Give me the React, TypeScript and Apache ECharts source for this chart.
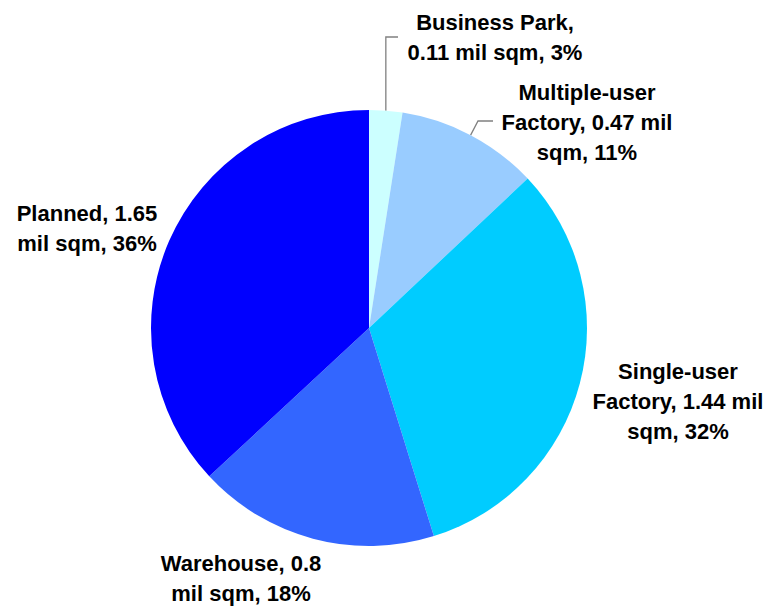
import React, { useEffect, useRef } from "react";
import * as echarts from "echarts";

const categories = ["Business Park", "Multiple-user Factory", "Single-user Factory", "Warehouse", "Planned"];
const values = [0.11, 0.47, 1.44, 0.8, 1.65];
const percents = [3, 11, 32, 18, 36];
const labelTexts = [
  "Business Park,\n0.11 mil sqm, 3%",
  "Multiple-user\nFactory, 0.47 mil\nsqm, 11%",
  "Single-user\nFactory, 1.44 mil\nsqm, 32%",
  "Warehouse, 0.8\nmil sqm, 18%",
  "Planned, 1.65\nmil sqm, 36%",
];
const colors = ["#ccffff", "#99ccff", "#00ccff", "#3366ff", "#0000ff"];
const showLeader = [true, true, false, false, false];

const labelCenters = [
  [495, 37],
  [587, 122],
  [678, 401],
  [241, 578],
  [87, 228],
];

export default function App() {
  const ref = useRef<HTMLDivElement>(null);
  useEffect(() => {
    document.body.style.margin = "0";
    const chart = echarts.init(ref.current!, null, { renderer: "svg" });
    chart.setOption({
      animation: false,
      backgroundColor: "#ffffff",
      series: [
        {
          type: "pie",
          center: [369, 328],
          radius: 218,
          startAngle: 90,
          clockwise: true,
          avoidLabelOverlap: false,
          itemStyle: { borderWidth: 0 },
          emphasis: { disabled: true },
          label: {
            show: true,
            position: "outside",
            color: "#000000",
            fontFamily: "Liberation Sans, Arial, sans-serif",
            fontWeight: "bold",
            fontSize: 22,
            lineHeight: 30,
            align: "center",
            formatter: (p: any) => labelTexts[p.dataIndex],
          },
          labelLine: { show: false },
          labelLayout: (params: any) => {
            const i = params.dataIndex;
            const [x, y] = labelCenters[i];
            const res: any = { x, y, align: "center", verticalAlign: "middle" };
            const pts = params.labelLinePoints;
            if (i === 0 && pts) {
              const p0 = pts[0];
              res.labelLinePoints = [p0, [p0[0], 37], [398, 37]];
            }
            if (i === 1 && pts) {
              const p0 = pts[0];
              res.labelLinePoints = [p0, [478, 121], [493, 121]];
            }
            return res;
          },
          data: categories.map((name, i) => ({
            name,
            value: values[i],
            percent: percents[i],
            itemStyle: { color: colors[i] },
            labelLine: {
              show: showLeader[i],
              lineStyle: { color: "#808080", width: 1.3 },
            },
          })),
        },
      ],
    });
    return () => chart.dispose();
  }, []);
  return <div ref={ref} style={{ position: "fixed", left: 0, top: 0, width: 770, height: 606 }} />;
}
